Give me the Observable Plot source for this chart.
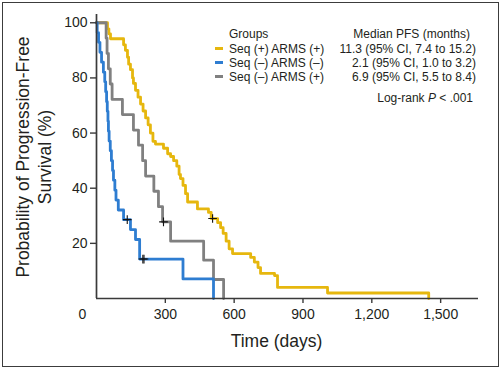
<!DOCTYPE html>
<html><head><meta charset="utf-8">
<script src="https://cdn.jsdelivr.net/npm/d3@7"></script>
<script src="https://cdn.jsdelivr.net/npm/@observablehq/plot@0.6"></script>
<style>
body{margin:0;background:#fff;}
#wrap{position:relative;width:503px;height:370px;overflow:hidden;font-family:"Liberation Sans",Arial,sans-serif;color:#231f20;background:#fff;}
#frame{position:absolute;left:2px;top:1.5px;width:497px;height:365px;border:1.5px solid #3c3c3c;box-sizing:border-box;pointer-events:none;}
.lg{position:absolute;font-size:12px;line-height:14px;white-space:nowrap;}
.sw{position:absolute;width:8px;height:3px;}
#ytitle{position:absolute;left:34.2px;top:156.5px;font-size:17.5px;line-height:22px;white-space:pre;text-align:center;transform:translate(-50%,-50%) rotate(-90deg);}
</style></head><body><div id="wrap"><div id="ytitle"></div><div id="legend"></div><div id="frame"></div></div>
<script>
// ---- data ----
const groups = ["Seq (+) ARMS (+)", "Seq (–) ARMS (–)", "Seq (–) ARMS (+)"];
const colors = ["#E6B70E", "#2E7DD1", "#808080"];
const medians = ["11.3 (95% CI, 7.4 to 15.2)", "2.1 (95% CI, 1.0 to 3.2)", "6.9 (95% CI, 5.5 to 8.4)"];

// Seq (+) ARMS (+)
const yellowTime = [0, 48, 54, 61, 118, 126, 135, 140, 148, 157, 161, 170, 181, 192, 203, 214, 225, 235, 246, 257, 292, 310, 323, 336, 350, 360, 366, 377, 388, 397, 440, 488, 500, 528, 541, 552, 565, 578, 593, 672, 688, 704, 715, 776, 789, 1007, 1448];
const yellowSurv = [100, 97.8, 96, 94.2, 92, 90, 87.5, 85, 83, 80, 78, 75.5, 73, 70.5, 68, 65.5, 63, 60, 57, 56, 54.5, 52.5, 51.5, 50, 48, 45, 43.5, 41, 38, 35, 32.5, 31.2, 29, 27.5, 25.7, 23.6, 20.8, 18, 16.3, 14.9, 13.2, 11.2, 9.1, 8.3, 4.0, 2.0, 0];
const yellowCensorTime = [506];
const yellowCensorSurv = [29];

// Seq (–) ARMS (–)
const blueTime = [0, 3, 9, 15, 22, 30, 36, 40, 44, 47, 50, 52, 55, 60, 65, 70, 74, 80, 85, 95, 118, 148, 170, 188, 377, 510];
const blueSurv = [100, 96.4, 92.9, 89.3, 85.7, 82.1, 78.6, 75.0, 71.4, 67.9, 64.3, 60.7, 57.1, 53.6, 50.0, 46.4, 42.9, 39.3, 35.7, 32.1, 28.6, 25.0, 21.4, 14.3, 7.1, 0];
const blueCensorTime = [134, 202, 207];
const blueCensorSurv = [28.6, 14.3, 14.3];

// Seq (–) ARMS (+)
const grayTime = [0, 42, 46, 52, 60, 68, 113, 161, 183, 201, 214, 250, 270, 288, 323, 467, 510, 554];
const graySurv = [100, 94.4, 88.9, 83.3, 77.8, 72.2, 66.7, 61.1, 55.6, 50.0, 44.4, 38.9, 33.3, 27.8, 20.8, 13.9, 6.9, 0];
const grayCensorTime = [292];
const grayCensorSurv = [27.8];

const xTicks = [300, 600, 900, 1200, 1500];
const yTicks = [20, 40, 60, 80, 100];
const xTitle = "Time (days)";
const yTitle = "Probability of Progression-Free\nSurvival (%)";
const logRank = ["Log-rank ", "P", " < .001"];

// ---- build ----
const toRows = (g, T, S) => T.map((t, i) => ({group: g, time: t, surv: S[i]}));
const yellow = toRows(groups[0], yellowTime, yellowSurv);
const blue = toRows(groups[1], blueTime, blueSurv);
const gray = toRows(groups[2], grayTime, graySurv);
const censors = [
  ...toRows(groups[0], yellowCensorTime, yellowCensorSurv),
  ...toRows(groups[2], grayCensorTime, grayCensorSurv),
  ...toRows(groups[1], blueCensorTime, blueCensorSurv)
];

const lineOpts = {x: "time", y: "surv", stroke: "group", curve: "step-after", strokeWidth: 2.8};
const axisColor = "#3a3a3a";

const chart = Plot.plot({
  width: 503,
  height: 370,
  marginLeft: 96,
  marginRight: 25,
  marginTop: 14,
  marginBottom: 72,
  style: {fontFamily: "'Liberation Sans', Arial, sans-serif", color: "#231f20", background: "transparent", overflow: "visible"},
  x: {domain: [0, 1665]},
  y: {domain: [0, 103]},
  color: {domain: groups, range: colors},
  marks: [
    Plot.line(yellow, lineOpts),
    Plot.line(gray, lineOpts),
    Plot.line(blue, lineOpts),
    Plot.dot(censors, {x: "time", y: "surv", symbol: "plus", r: 2.9, stroke: "#111", strokeWidth: 1.1}),
    Plot.ruleX([0], {stroke: axisColor, strokeWidth: 1.7}),
    Plot.ruleY([0], {stroke: axisColor, strokeWidth: 1.7}),
    Plot.axisY({ticks: yTicks, tickSize: 6, tickPadding: 3, fontSize: 14, label: null, stroke: axisColor, strokeWidth: 1.4}),
    Plot.axisX({ticks: xTicks, tickFormat: d3.format(","), tickSize: 5, tickPadding: 6, fontSize: 14, label: null, stroke: axisColor, strokeWidth: 1.4}),
    Plot.axisX({ticks: [0], tickSize: 0, tickPadding: 11, dx: -14, fontSize: 14, label: null}),
    Plot.text([xTitle], {frameAnchor: "bottom", dx: -11, dy: 48.5, lineAnchor: "bottom", fontSize: 17.5, fill: "#231f20"})
  ]
});
const wrap = document.getElementById("wrap");
chart.style.position = "absolute";
chart.style.left = "0px";
chart.style.top = "0px";
wrap.insertBefore(chart, wrap.firstChild);

document.getElementById("ytitle").textContent = yTitle;

// ---- legend (HTML overlay) ----
const lg = document.getElementById("legend");
function add(cls, css, html) {
  const d = document.createElement("div");
  d.className = cls;
  Object.assign(d.style, css);
  if (html != null) d.innerHTML = html;
  lg.appendChild(d);
  return d;
}
add("lg", {left: "229px", top: "27.2px"}, "Groups");
add("lg", {right: "33px", top: "27.2px"}, "Median PFS (months)");
groups.forEach((g, i) => {
  add("sw", {left: "215px", top: (46.8 + i * 14.2) + "px", background: colors[i]});
  add("lg", {left: "229px", top: (41.5 + i * 14.2) + "px"}, g);
  add("lg", {right: "27px", top: (41.5 + i * 14.2) + "px"}, medians[i]);
});
add("lg", {right: "30px", top: "90.5px"}, logRank[0] + "<i>" + logRank[1] + "</i>" + logRank[2].replace("<", "&lt;"));
</script>
</body></html>
